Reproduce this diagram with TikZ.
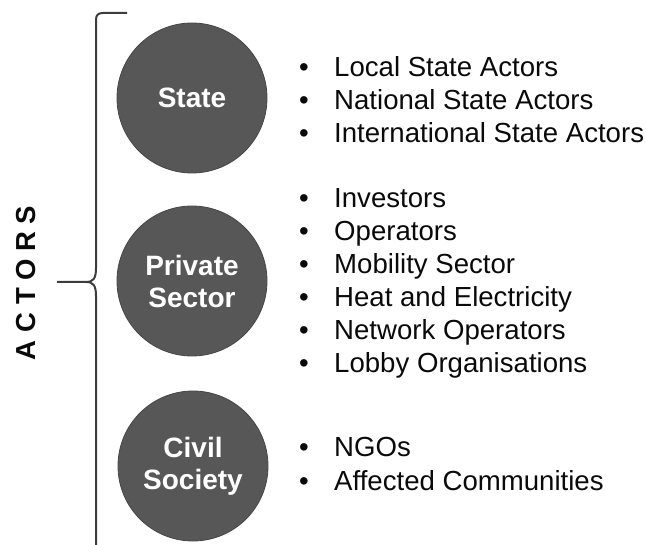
\documentclass[tikz,border=0pt]{standalone}
\usepackage{fontspec}
\setmainfont{Liberation Sans}
\newfontfamily\spacedfont[LetterSpace=28]{Liberation Sans}
\usetikzlibrary{calc}
\definecolor{discgray}{HTML}{575757}
\definecolor{discedge}{HTML}{464646}
\definecolor{bracegray}{HTML}{3C3C3C}
\definecolor{listblack}{HTML}{0A0A0A}
\tikzset{
	actor/.style    = {shape=circle, draw=discedge, line width=0.8pt,
		fill=discgray, minimum size=150pt, inner sep=0pt,
		text=white, align=center,
		font=\bfseries\fontsize{28}{32}\selectfont},
	listitem/.style = {anchor=base west, inner sep=0pt, text=listblack,
		font=\fontsize{27.6}{33}\selectfont},
	listdot/.style  = {listitem},
	bracket/.style  = {draw=bracegray, line width=2pt, line join=round}
}

\begin{document}
\begin{tikzpicture}[x=1pt,y=-1pt]
	\useasboundingbox (0,0) rectangle (646,545);

	% the three groups
	\node[actor] (state)   at (192,98)  {State};
	\node[actor] (private) at (192,281) {Private\\Sector};
	\node[actor] (civil)   at (193,466) {Civil\\Society};

	% bullet lists, one baseline per line
	\foreach \name/\yy/\txt in {
		s1/77/Local State Actors,
		s2/110/National State Actors,
		s3/143/International State Actors,
		p1/208/Investors,
		p2/241/Operators,
		p3/274/Mobility Sector,
		p4/307/Heat and Electricity,
		p5/340/Network Operators,
		p6/373/Lobby Organisations,
		c1/457/NGOs,
		c2/490/Affected Communities}
	{
		\node[listdot]  (dot\name) at (299,\yy) {\textbullet};
		\node[listitem] (txt\name) at (334,\yy) {\txt};
	}

	% the brace
	\coordinate (bracetop)  at (127,13);
	\coordinate (bracetip)  at (57,282);
	\coordinate (bracefoot) at (96,545);
	\draw[bracket] (bracetop) -- (103,13)
		.. controls (98,13) and (96,15) .. (96,20) -- (96,268)
		.. controls (96,279) and (93,282) .. (86,282) -- (bracetip);
	\draw[bracket] (86,282) .. controls (93,282) and (96,285) .. (96,296)
		-- (bracefoot);

	% vertical label
	\node[rotate=90, inner sep=0pt, text=listblack,
		font=\spacedfont\bfseries\fontsize{27.5}{30}\selectfont]
		(actors) at (26,283) {ACTORS};
\end{tikzpicture}
\end{document}
